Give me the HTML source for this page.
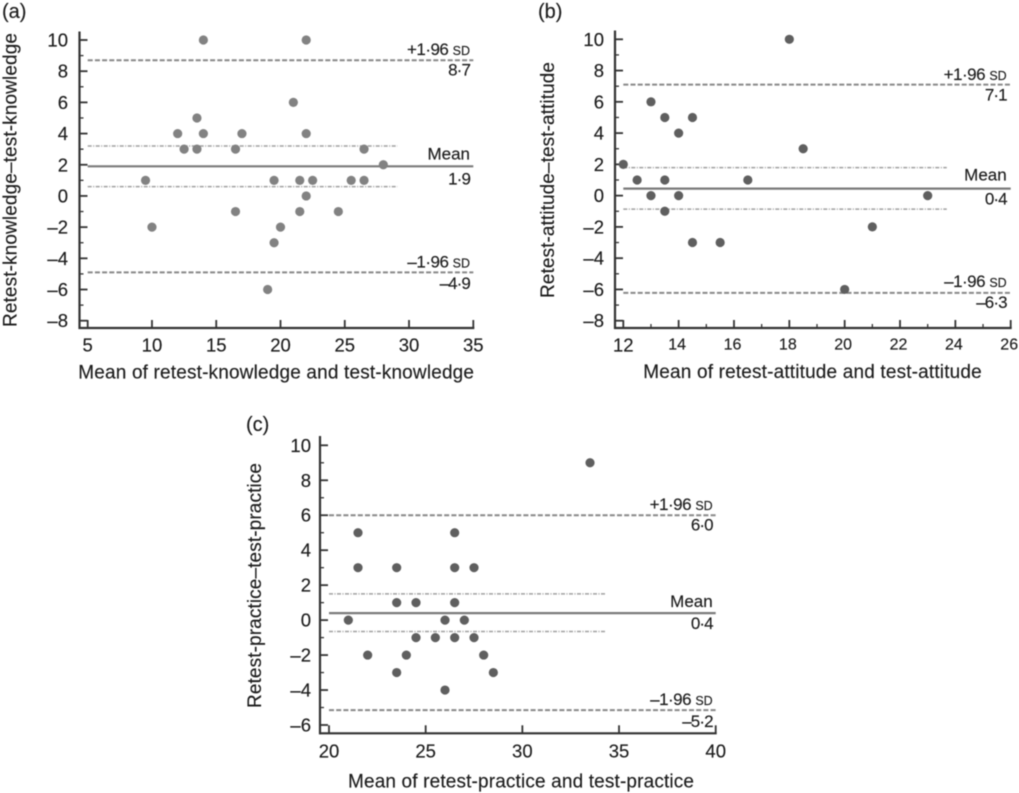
<!DOCTYPE html>
<html lang="en">
<head>
<meta charset="utf-8">
<title>Bland-Altman plots</title>
<style>
html,body{margin:0;padding:0;background:#fff;width:1019px;height:793px;overflow:hidden}
svg{display:block;filter:blur(0.4px)}
text{font-family:"Liberation Sans",sans-serif;fill:#1c1c1c;stroke:#1c1c1c;stroke-width:0.15px}
</style>
</head>
<body>
<svg id="chart" width="1019" height="793" viewBox="0 0 1019 793" xmlns="http://www.w3.org/2000/svg"></svg>
<script>
const aPointX = [14,22,21,13.5,12,14,17,22,12.5,13.5,16.5,26.5,28,9.5,19.5,21.5,22.5,25.5,26.5,22,16.5,21.5,24.5,10,20,19.5,19];
const aPointY = [10,10,6,5,4,4,4,4,3,3,3,3,2,1,1,1,1,1,1,0,-1,-1,-1,-2,-2,-3,-6];
const aXTicks = [5,10,15,20,25,30,35];
const aYTicks = [10,8,6,4,2,0,-2,-4,-6,-8];
const aLimits = [8.7,1.9,-4.9];
const aConfidence = [3.2,0.6];
const aLimitLabels = ['8·7','1·9','–4·9'];

const bPointX = [18,13,13.5,14.5,14,18.5,12,12.5,13.5,16.5,13,14,23,13.5,21,14.5,15.5,20];
const bPointY = [10,6,5,5,4,3,2,1,1,1,0,0,0,-1,-2,-3,-3,-6];
const bXTicks = [12,14,16,18,20,22,24,26];
const bXMinorTicks = [13,15,17,19,21,23,25];
const bYTicks = [10,8,6,4,2,0,-2,-4,-6,-8];
const bLimits = [7.1,0.45,-6.22];
const bConfidence = [1.79,-0.86];
const bLimitLabels = ['7·1','0·4','–6·3'];

const cPointX = [33.5,21.5,26.5,21.5,23.5,26.5,27.5,23.5,24.5,26.5,21,26,27,24.5,25.5,26.5,27.5,22,24,28,23.5,28.5,26];
const cPointY = [9,5,5,3,3,3,3,1,1,1,0,0,0,-1,-1,-1,-1,-2,-2,-2,-3,-3,-4];
const cXTicks = [20,25,30,35,40];
const cYTicks = [10,8,6,4,2,0,-2,-4,-6];
const cLimits = [6.0,0.4,-5.15];
const cConfidence = [1.5,-0.65];
const cLimitLabels = ['6·0','0·4','–5·2'];

const NS = 'http://www.w3.org/2000/svg';
const root = document.getElementById('chart');

function addLine(parent, x1, y1, x2, y2, stroke, width, dash, name) {
  const el = document.createElementNS(NS, 'line');
  el.setAttribute('x1', x1);
  el.setAttribute('y1', y1);
  el.setAttribute('x2', x2);
  el.setAttribute('y2', y2);
  el.setAttribute('stroke', stroke);
  el.setAttribute('stroke-width', width);
  if (dash) el.setAttribute('stroke-dasharray', dash);
  
  
  parent.appendChild(el);
  return el;
}

function addText(parent, x, y, str, size, anchor, name) {
  const el = document.createElementNS(NS, 'text');
  el.setAttribute('x', x);
  el.setAttribute('y', y);
  el.setAttribute('font-size', size);
  el.setAttribute('text-anchor', anchor);
  el.textContent = str;
  
  
  parent.appendChild(el);
  return el;
}

function addValue(parent, x, y, str, name) {
  const el = addText(parent, x, y, str, 17, 'end', name);
  el.setAttribute('letter-spacing', '-0.9');
  return el;
}

function addSdLabel(parent, x, y, prefix, name) {
  const el = addText(parent, x, y, prefix + ' ', 17, 'end', name);
  el.setAttribute('letter-spacing', '-0.5');
  const small = document.createElementNS(NS, 'tspan');
  small.setAttribute('font-size', '12.5');
  small.setAttribute('letter-spacing', '0');
  small.textContent = 'SD';
  
  
  el.appendChild(small);
}

function drawPanel(p) {
  const g = document.createElementNS(NS, 'g');
  
  
  root.appendChild(g);

  const sx = v => p.x0 + (v - p.xMin) * (p.x1 - p.x0) / (p.xMax - p.xMin);
  const sy = v => p.y0 + (v - p.yMin) * (p.y1 - p.y0) / (p.yMax - p.yMin);
  const axisColor = '#333333';

  // axes
  addLine(g, p.axisX, p.axisTop, p.axisX, p.axisY + 1, axisColor, 2.2, null, 'y-axis-line');
  addLine(g, p.axisX - 1, p.axisY, p.x1 + 1, p.axisY, axisColor, 2.2, null, 'x-axis-line');

  // y ticks: major at each labelled value, minor at the odd value between them
  p.yTicks.forEach(v => {
    addLine(g, p.axisX, sy(v), p.axisX + 8, sy(v), axisColor, 1.8, null, 'y-tick');
    addText(g, p.yLabelX, sy(v) + 6.5, v < 0 ? '–' + Math.abs(v) : String(v), 18.5, 'end', 'y-tick-label');
    if (v > p.yTicks[p.yTicks.length - 1]) {
      addLine(g, p.axisX, sy(v - 1), p.axisX + 4, sy(v - 1), axisColor, 1.3, null, 'y-minor-tick');
    }
  });

  // x ticks; the first label of panel b is printed larger and lower than the rest
  p.xTicks.forEach((v, i) => {
    addLine(g, sx(v), p.axisY, sx(v), p.axisY - 8, axisColor, 1.8, null, 'x-tick');
    const first = i === 0 && p.firstLabel;
    addText(g, sx(v) - (p.xLabelShift || 0) * (first ? 0 : 1), first ? p.firstLabel[1] : p.xLabelY, String(v), first ? p.firstLabel[0] : (p.xLabelSize || 18.5), 'middle', 'x-tick-label');
  });
  (p.xMinor || []).forEach(v => {
    addLine(g, sx(v), p.axisY, sx(v), p.axisY - 4, axisColor, 1.3, null, 'x-minor-tick');
  });

  // limit and confidence lines
  addLine(g, p.x0, sy(p.limits[0]), p.x1, sy(p.limits[0]), '#888888', 2, '5 2.2', 'upper-limit-line');
  addLine(g, p.x0, sy(p.limits[1]), p.x1, sy(p.limits[1]), '#7a7a7a', 2.2, null, 'mean-line');
  addLine(g, p.x0, sy(p.limits[2]), p.x1, sy(p.limits[2]), '#888888', 2, '5 2.2', 'lower-limit-line');
  addLine(g, p.x0, sy(p.conf[0]), sx(p.confEnd), sy(p.conf[0]), '#a0a0a0', 1.5, '4 1.5 1 1.5', 'mean-upper-confidence-line');
  addLine(g, p.x0, sy(p.conf[1]), sx(p.confEnd), sy(p.conf[1]), '#a0a0a0', 1.5, '4 1.5 1 1.5', 'mean-lower-confidence-line');

  // points
  p.px.forEach((v, i) => {
    const dot = document.createElementNS(NS, 'circle');
    dot.setAttribute('cx', sx(v));
    dot.setAttribute('cy', sy(p.py[i]));
    dot.setAttribute('r', 4.6);
    dot.setAttribute('fill', p.dot);
    
    
    g.appendChild(dot);
  });

  // line annotations
  const o = p.offsets;
  addSdLabel(g, p.labelX, sy(p.limits[0]) + o[0], '+1·96', 'upper-limit-title');
  addValue(g, p.labelX, sy(p.limits[0]) + o[1], p.labels[0], 'upper-limit-value');
  addText(g, p.labelX, sy(p.limits[1]) + o[2], 'Mean', 17, 'end', 'mean-title');
  addValue(g, p.labelX, sy(p.limits[1]) + o[3], p.labels[1], 'mean-value');
  addSdLabel(g, p.labelX, sy(p.limits[2]) + o[4], '–1·96', 'lower-limit-title');
  addValue(g, p.labelX, sy(p.limits[2]) + o[5], p.labels[2], 'lower-limit-value');

  // titles
  const xt = addText(g, p.xTitle[0], p.xTitle[2], p.xText, 19, 'start', 'x-axis-title');
  xt.setAttribute('textLength', p.xTitle[1] - p.xTitle[0]);
  const yt = addText(g, 0, 0, p.yText, 19, 'start', 'y-axis-title');
  yt.setAttribute('transform', 'translate(' + p.yTitle[0] + ' ' + p.yTitle[2] + ') rotate(-90)');
  yt.setAttribute('textLength', p.yTitle[2] - p.yTitle[1]);
  addText(g, p.tag[0], p.tag[1], p.tagText, 20, 'start', 'panel-label');
}

drawPanel({
  name: 'panel-a', tagText: '(a)', tag: [2, 18],
  x0: 87.7, x1: 473.3, xMin: 5, xMax: 35,
  y0: 320.7, y1: 40, yMin: -8, yMax: 10,
  axisX: 79.5, axisY: 328, axisTop: 31.5,
  yLabelX: 68, xLabelY: 351.7,
  xTicks: aXTicks, yTicks: aYTicks,
  limits: aLimits, conf: aConfidence, labels: aLimitLabels, confEnd: 29.1,
  px: aPointX, py: aPointY, dot: '#828282',
  labelX: 470, offsets: [-5.3, 15, -7, 18.4, -5, 16.7],
  xText: 'Mean of retest-knowledge and test-knowledge', xTitle: [78.3, 474, 378.3],
  yText: 'Retest-knowledge–test-knowledge', yTitle: [16.7, 33, 327]
});

drawPanel({
  name: 'panel-b', tagText: '(b)', tag: [538, 18],
  x0: 623.3, x1: 1010.7, xMin: 12, xMax: 26,
  y0: 320.7, y1: 39.3, yMin: -8, yMax: 10,
  axisX: 615, axisY: 328, axisTop: 30.5,
  yLabelX: 604, xLabelY: 349.3, xLabelSize: 16, xLabelShift: 1.5, firstLabel: [18.5, 351.5],
  xTicks: bXTicks, xMinor: bXMinorTicks, yTicks: bYTicks,
  limits: bLimits, conf: bConfidence, labels: bLimitLabels, confEnd: 23.69,
  px: bPointX, py: bPointY, dot: '#5f5f5f',
  labelX: 1006.7, offsets: [-4.5, 16, -8, 16, -6, 15],
  xText: 'Mean of retest-attitude and test-attitude', xTitle: [643.3, 981.7, 378],
  yText: 'Retest-attitude–test-attitude', yTitle: [554, 62, 298]
});

drawPanel({
  name: 'panel-c', tagText: '(c)', tag: [246, 431],
  x0: 329, x1: 715.7, xMin: 20, xMax: 40,
  y0: 725, y1: 445.3, yMin: -6, yMax: 10,
  axisX: 320, axisY: 733.3, axisTop: 436,
  yLabelX: 311, xLabelY: 757.3,
  xTicks: cXTicks, yTicks: cYTicks,
  limits: cLimits, conf: cConfidence, labels: cLimitLabels, confEnd: 34.28,
  px: cPointX, py: cPointY, dot: '#5f5f5f',
  labelX: 712.7, offsets: [-5, 15.5, -6, 16, -5, 16.7],
  xText: 'Mean of retest-practice and test-practice', xTitle: [348, 694, 787.7],
  yText: 'Retest-practice–test-practice', yTitle: [261, 463, 708]
});
</script>
</body>
</html>
